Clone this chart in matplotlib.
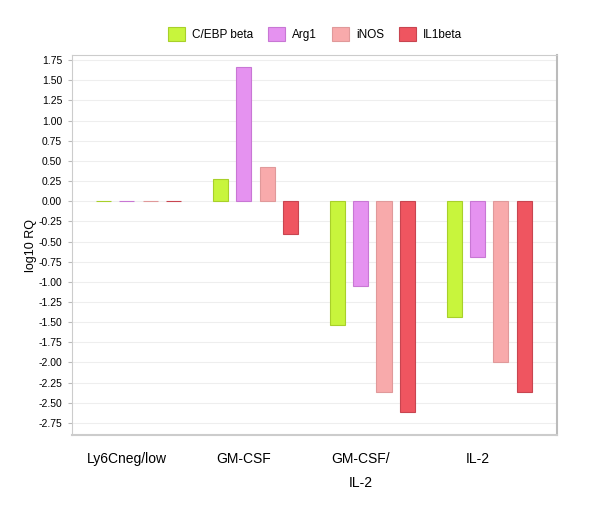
import matplotlib.pyplot as plt
import numpy as np

# Data
groups = ['Ly6Cneg/low', 'GM-CSF', 'GM-CSF/\nIL-2', 'IL-2']
genes = ['C/EBP beta', 'Arg1', 'iNOS', 'IL1beta']
cebp = [0.0, 0.27, -1.53, -1.44]
arg1 = [0.0, 1.66, -1.05, -0.69]
inos = [0.0, 0.42, -2.37, -1.99]
il1b = [0.0, -0.41, -2.62, -2.37]
yticks = [1.75, 1.5, 1.25, 1.0, 0.75, 0.5, 0.25, 0.0, -0.25, -0.5, -0.75,
          -1.0, -1.25, -1.5, -1.75, -2.0, -2.25, -2.5, -2.75]

colors = ['#c8f53c', '#e592f0', '#f8aaab', '#ef5560']
edges = ['#a8d02a', '#c877d4', '#e0999a', '#c84550']

plt.rcParams['font.family'] = ['Liberation Sans', 'DejaVu Sans']

fig = plt.figure(figsize=(6.12, 5.21), dpi=100)
ax = fig.add_axes([0.1176, 0.165, 0.7925, 0.729])

x = np.arange(len(groups))
width = 0.13
step = 0.2
series = [cebp, arg1, inos, il1b]
for i, vals in enumerate(series):
    ax.bar(x + (i - 1.5) * step, vals, width, color=colors[i],
           edgecolor=edges[i], linewidth=0.8, label=genes[i], zorder=3)

ax.set_xlim(-0.57, 3.58)
ax.set_ylim(-2.90, 1.81)
ax.set_yticks(yticks)
ax.set_yticklabels(['%.2f' % v for v in yticks], fontsize=7.5)
ax.set_xticks(x - 0.1)
ax.set_xticklabels(groups, fontsize=10, linespacing=1.9, va='top')
ax.tick_params(axis='x', length=0, pad=12)
ax.tick_params(axis='y', length=3, color='#bbbbbb', pad=4)
ax.set_ylabel('log10 RQ', fontsize=9, labelpad=1)

ax.grid(axis='y', color='#eeeeee', linewidth=0.8, zorder=0)
for side in ['left', 'bottom', 'top']:
    ax.spines[side].set_color('#cccccc')
ax.spines['right'].set_color('#bbbbbb')
ax.spines['right'].set_linewidth(1.5)
ax.spines['bottom'].set_linewidth(1.5)

fig.legend(loc='upper center', bbox_to_anchor=(0.515, 0.968), ncol=4,
           frameon=False, fontsize=8.5, handlelength=1.4, handleheight=1.4,
           columnspacing=1.3, handletextpad=0.6)

fig.savefig('out.png', dpi=100)
